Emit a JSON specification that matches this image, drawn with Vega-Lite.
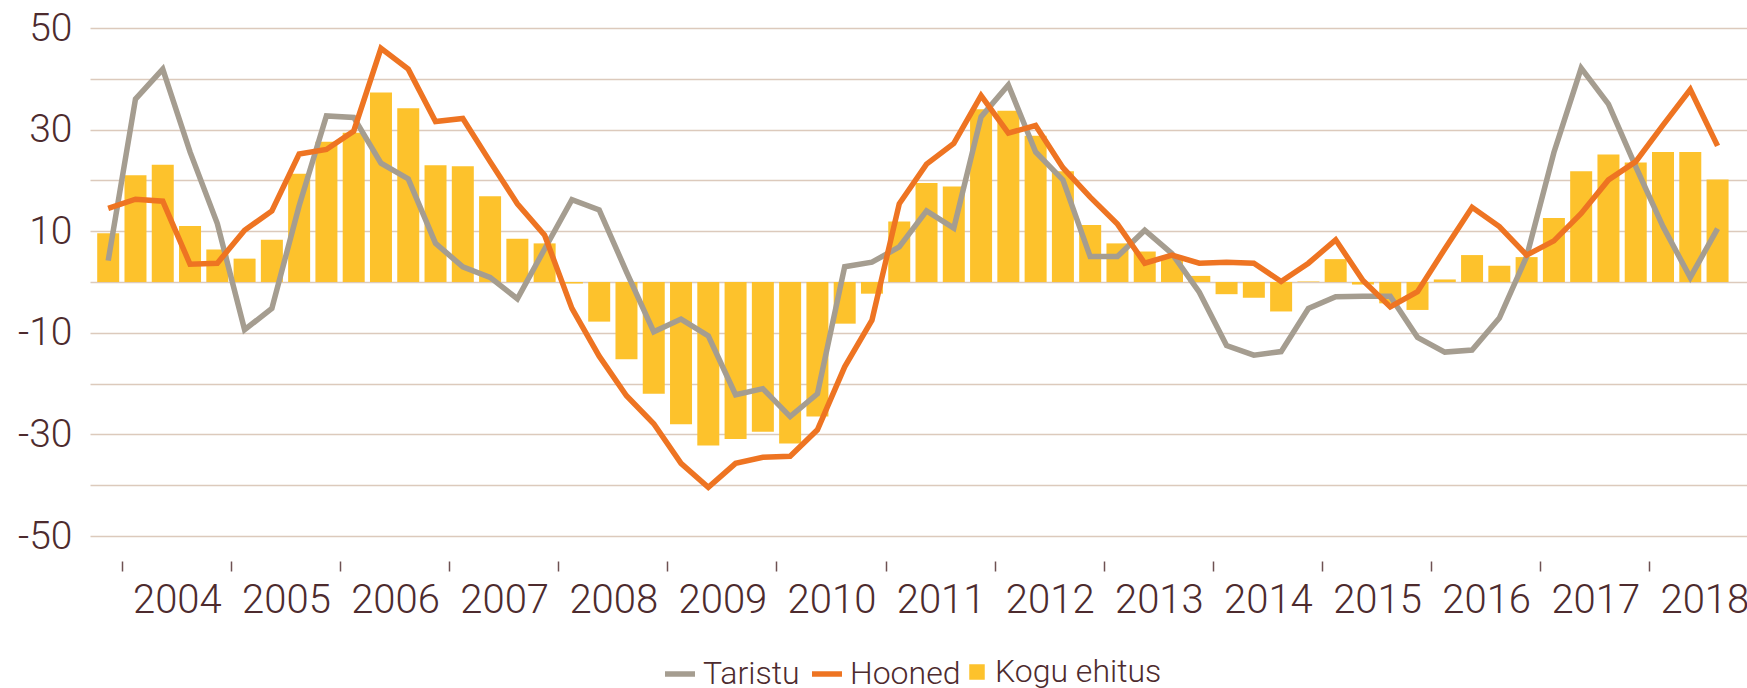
{
  "$schema": "https://vega.github.io/schema/vega-lite/v6.json",
  "autosize": {"type": "none"},
  "padding": {"left": 90, "top": 28, "right": 0, "bottom": 152},
  "width": 1657,
  "height": 508,
  "background": "white",
  "config": {
    "view": {"stroke": null},
    "font": "Roboto",
    "legend": {"padding": 0}
  },
  "data": {
    "values": [
      {"t": 2003.875, "kogu": 9.6, "taristu": 4.2, "hooned": 14.5},
      {"t": 2004.125, "kogu": 21.0, "taristu": 36.0, "hooned": 16.3},
      {"t": 2004.375, "kogu": 23.1, "taristu": 41.9, "hooned": 15.9},
      {"t": 2004.625, "kogu": 11.0, "taristu": 25.6, "hooned": 3.5},
      {"t": 2004.875, "kogu": 6.4, "taristu": 11.5, "hooned": 3.7},
      {"t": 2005.125, "kogu": 4.6, "taristu": -9.4, "hooned": 10.2},
      {"t": 2005.375, "kogu": 8.3, "taristu": -5.2, "hooned": 14.0},
      {"t": 2005.625, "kogu": 21.3, "taristu": 15.0, "hooned": 25.2},
      {"t": 2005.875, "kogu": 27.6, "taristu": 32.7, "hooned": 26.1},
      {"t": 2006.125, "kogu": 29.4, "taristu": 32.4, "hooned": 29.7},
      {"t": 2006.375, "kogu": 37.3, "taristu": 23.4, "hooned": 46.0},
      {"t": 2006.625, "kogu": 34.2, "taristu": 20.3, "hooned": 41.9},
      {"t": 2006.875, "kogu": 23.0, "taristu": 7.6, "hooned": 31.6},
      {"t": 2007.125, "kogu": 22.8, "taristu": 3.0, "hooned": 32.2},
      {"t": 2007.375, "kogu": 16.9, "taristu": 0.9, "hooned": 23.7},
      {"t": 2007.625, "kogu": 8.5, "taristu": -3.3, "hooned": 15.4},
      {"t": 2007.875, "kogu": 7.6, "taristu": 6.5, "hooned": 9.2},
      {"t": 2008.125, "kogu": -0.3, "taristu": 16.2, "hooned": -5.2},
      {"t": 2008.375, "kogu": -7.8, "taristu": 14.2, "hooned": -14.6},
      {"t": 2008.625, "kogu": -15.2, "taristu": 2.0, "hooned": -22.4},
      {"t": 2008.875, "kogu": -22.0, "taristu": -9.8, "hooned": -27.9},
      {"t": 2009.125, "kogu": -28.0, "taristu": -7.3, "hooned": -35.7},
      {"t": 2009.375, "kogu": -32.2, "taristu": -10.6, "hooned": -40.4},
      {"t": 2009.625, "kogu": -30.9, "taristu": -22.2, "hooned": -35.7},
      {"t": 2009.875, "kogu": -29.5, "taristu": -21.0, "hooned": -34.5},
      {"t": 2010.125, "kogu": -31.8, "taristu": -26.5, "hooned": -34.3},
      {"t": 2010.375, "kogu": -26.5, "taristu": -22.0, "hooned": -29.1},
      {"t": 2010.625, "kogu": -8.2, "taristu": 3.0, "hooned": -16.7},
      {"t": 2010.875, "kogu": -2.3, "taristu": 3.9, "hooned": -7.5},
      {"t": 2011.125, "kogu": 11.9, "taristu": 6.9, "hooned": 15.4},
      {"t": 2011.375, "kogu": 19.5, "taristu": 14.0, "hooned": 23.2},
      {"t": 2011.625, "kogu": 18.8, "taristu": 10.6, "hooned": 27.3},
      {"t": 2011.875, "kogu": 34.0, "taristu": 32.5, "hooned": 36.7},
      {"t": 2012.125, "kogu": 33.7, "taristu": 38.8, "hooned": 29.3},
      {"t": 2012.375, "kogu": 28.8, "taristu": 25.6, "hooned": 30.8},
      {"t": 2012.625, "kogu": 21.8, "taristu": 20.1, "hooned": 22.5},
      {"t": 2012.875, "kogu": 11.2, "taristu": 5.0, "hooned": 16.7},
      {"t": 2013.125, "kogu": 7.6, "taristu": 5.0, "hooned": 11.4},
      {"t": 2013.375, "kogu": 6.0, "taristu": 10.2, "hooned": 3.7},
      {"t": 2013.625, "kogu": 5.0, "taristu": 5.6, "hooned": 5.3},
      {"t": 2013.875, "kogu": 1.2, "taristu": -2.0, "hooned": 3.7},
      {"t": 2014.125, "kogu": -2.4, "taristu": -12.5, "hooned": 3.9},
      {"t": 2014.375, "kogu": -3.1, "taristu": -14.4, "hooned": 3.7},
      {"t": 2014.625, "kogu": -5.8, "taristu": -13.7, "hooned": 0.1},
      {"t": 2014.875, "kogu": 0.1, "taristu": -5.2, "hooned": 3.7},
      {"t": 2015.125, "kogu": 4.5, "taristu": -2.9, "hooned": 8.3},
      {"t": 2015.375, "kogu": -0.5, "taristu": -2.8, "hooned": 0.3},
      {"t": 2015.625, "kogu": -4.2, "taristu": -2.8, "hooned": -4.9},
      {"t": 2015.875, "kogu": -5.5, "taristu": -10.9, "hooned": -1.9},
      {"t": 2016.125, "kogu": 0.5, "taristu": -13.8, "hooned": 6.5},
      {"t": 2016.375, "kogu": 5.3, "taristu": -13.4, "hooned": 14.7},
      {"t": 2016.625, "kogu": 3.2, "taristu": -7.1, "hooned": 10.9},
      {"t": 2016.875, "kogu": 4.9, "taristu": 5.0, "hooned": 5.3},
      {"t": 2017.125, "kogu": 12.6, "taristu": 25.5, "hooned": 8.1},
      {"t": 2017.375, "kogu": 21.8, "taristu": 42.1, "hooned": 13.5},
      {"t": 2017.625, "kogu": 25.1, "taristu": 35.0, "hooned": 20.1},
      {"t": 2017.875, "kogu": 23.5, "taristu": 22.7, "hooned": 23.7},
      {"t": 2018.125, "kogu": 25.6, "taristu": 10.9, "hooned": 30.9},
      {"t": 2018.375, "kogu": 25.6, "taristu": 0.9, "hooned": 37.9},
      {"t": 2018.625, "kogu": 20.2, "taristu": 10.5, "hooned": 26.8}
    ]
  },
  "encoding": {
    "x": {
      "field": "t",
      "type": "quantitative",
      "scale": {"domain": [2003.754, 2018.849], "nice": false, "zero": false},
      "axis": {
        "title": null,
        "values": [2004, 2005, 2006, 2007, 2008, 2009, 2010, 2011, 2012, 2013, 2014, 2015, 2016, 2017, 2018],
        "labelExpr": "'' + datum.value",
        "labelOffset": 55,
        "grid": false,
        "domain": false,
        "ticks": true,
        "tickSize": 10,
        "tickWidth": 1.5,
        "tickColor": "#6E5152",
        "offset": 25,
        "labelPadding": 9,
        "labelFontSize": 40,
        "labelFont": "Roboto",
        "labelFontWeight": 300,
        "labelColor": "#4D2B2E",
        "labelBound": false,
        "labelOverlap": false,
        "labelFlush": false
      }
    }
  },
  "layer": [
    {
      "mark": {"type": "bar", "size": 22},
      "encoding": {
        "y": {
          "field": "kogu",
          "type": "quantitative",
          "scale": {"domain": [-50, 50], "nice": false},
          "axis": {
            "title": null,
            "values": [-50, -40, -30, -20, -10, 0, 10, 20, 30, 40, 50],
            "labelExpr": "datum.value % 20 != 0 ? '' + datum.value : ''",
            "grid": true,
            "gridColor": "#DCCABC",
            "gridWidth": 1.5,
            "ticks": false,
            "domain": false,
            "labelPadding": 18,
            "labelFontSize": 39,
            "labelFont": "Roboto",
            "labelFontWeight": 300,
            "labelColor": "#4D2B2E"
          }
        },
        "fill": {
          "datum": "Kogu ehitus",
          "scale": {"domain": ["Kogu ehitus"], "range": ["#FDC22C"]},
          "legend": {
            "orient": "none",
            "legendX": 871,
            "legendY": 628,
            "title": null,
            "symbolType": "square",
            "symbolSize": 240,
            "symbolStrokeWidth": 0,
            "labelOffset": 2,
            "labelLimit": 500,
            "labelFontSize": 32,
            "labelFont": "Roboto",
            "labelFontWeight": 300,
            "labelColor": "#4D2B2E"
          }
        }
      }
    },
    {
      "mark": {"type": "line", "strokeWidth": 5.5},
      "encoding": {
        "y": {"field": "taristu", "type": "quantitative"},
        "stroke": {
          "datum": "Taristu",
          "scale": {"domain": ["Taristu", "Hooned"], "range": ["#A59D90", "#EE7422"]},
          "legend": {
            "orient": "none",
            "legendX": 572,
            "legendY": 628,
            "direction": "horizontal",
            "title": null,
            "symbolType": "stroke",
            "symbolSize": 900,
            "symbolStrokeWidth": 5.5,
            "labelOffset": 5,
            "columnPadding": 1,
            "labelLimit": 500,
            "labelFontSize": 32,
            "labelFont": "Roboto",
            "labelFontWeight": 300,
            "labelColor": "#4D2B2E"
          }
        }
      }
    },
    {
      "mark": {"type": "line", "strokeWidth": 5.5},
      "encoding": {
        "y": {"field": "hooned", "type": "quantitative"},
        "stroke": {"datum": "Hooned"}
      }
    }
  ]
}
